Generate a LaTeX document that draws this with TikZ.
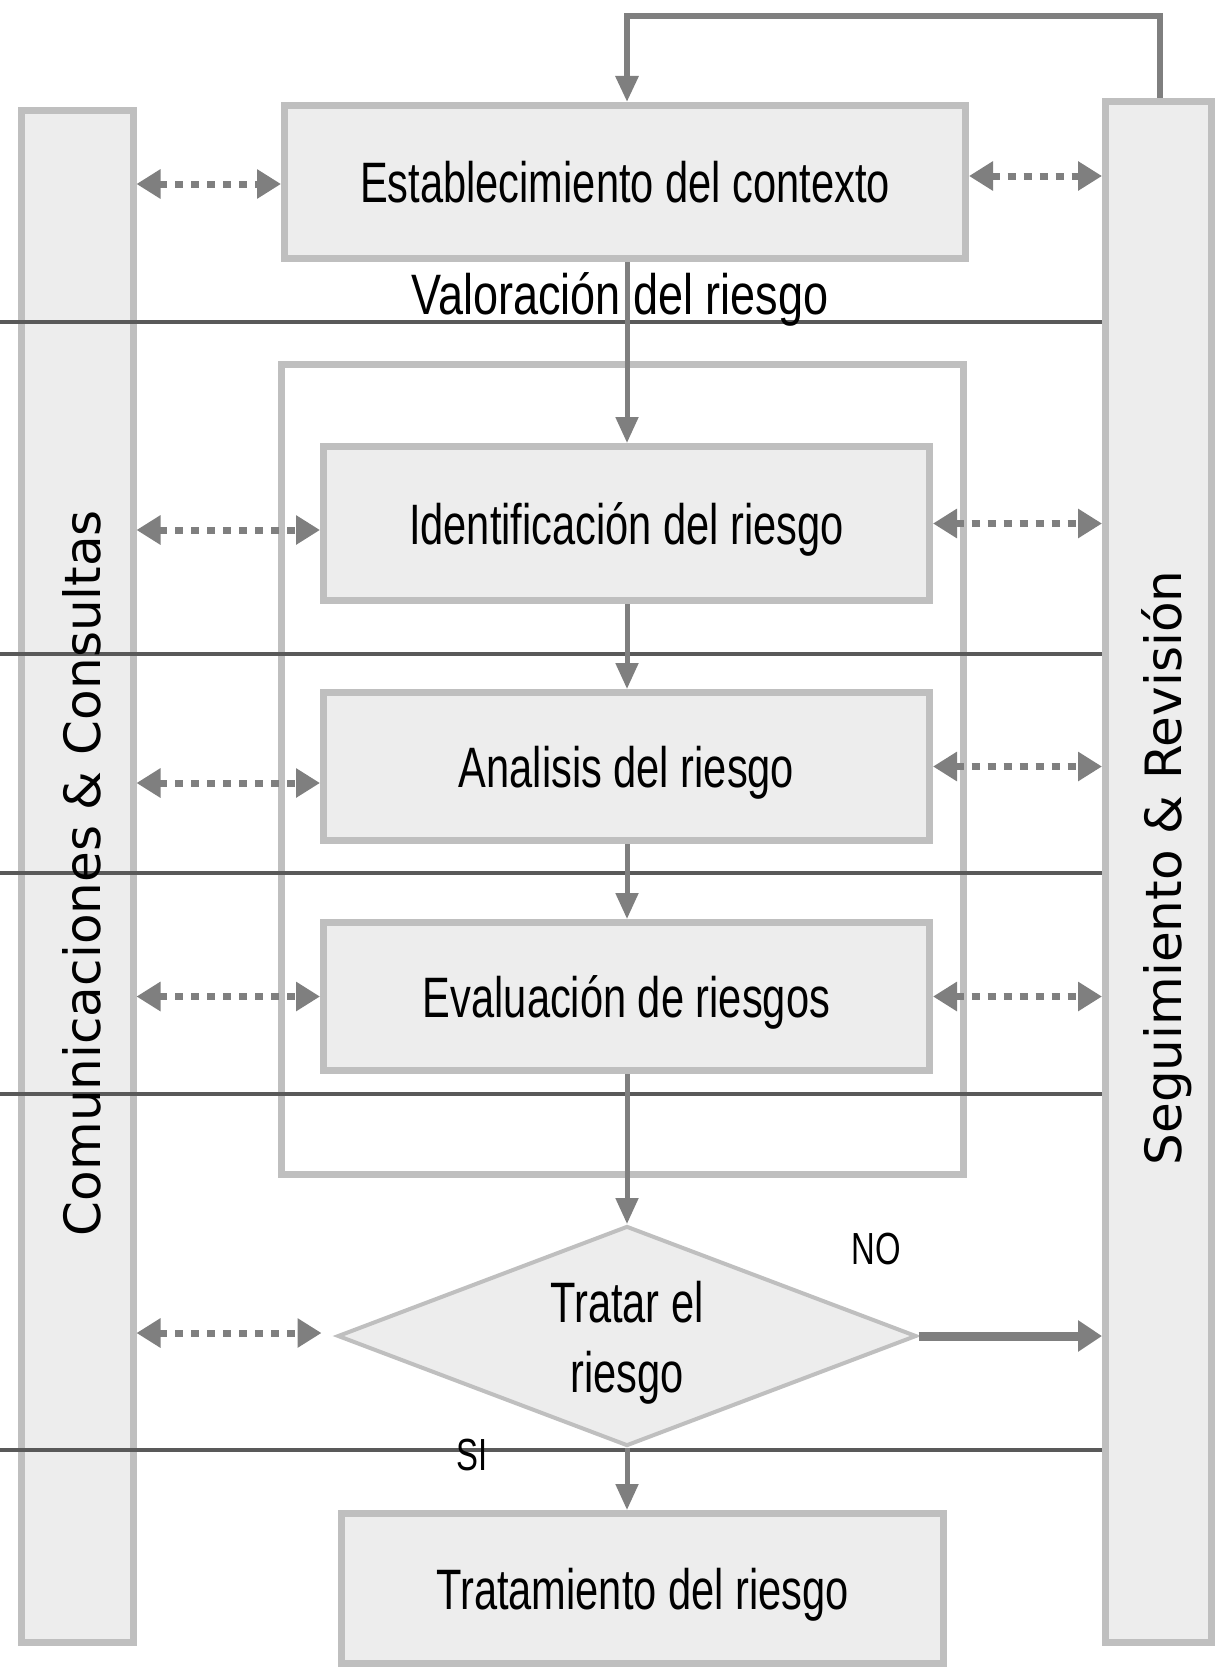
\documentclass[tikz,border=0pt]{standalone}
\usepackage{fontspec}
\newfontfamily\condfont[FakeStretch=0.73]{Liberation Sans}
\newfontfamily\valfam[FakeStretch=0.79]{Liberation Sans}
\newfontfamily\labelfam{DejaVu Sans}
\usetikzlibrary{arrows.meta,shapes.geometric,calc}
\definecolor{boxfill}{HTML}{EDEDED}
\definecolor{boxline}{HTML}{BFBFBF}
\definecolor{arrgray}{HTML}{7F7F7F}
\definecolor{hl}{HTML}{595959}
\newcommand\boxfont{\condfont\fontsize{57}{68}\selectfont}
\newcommand\smallfont{\condfont\fontsize{45}{52}\selectfont}
\newcommand\labfont{\labelfam\fontsize{50}{60}\selectfont}
\begin{document}
\begin{tikzpicture}[x=1pt,y=-1pt,
  box/.style={draw=boxline, fill=boxfill, line width=7pt, inner sep=0pt, font=\boxfont, text height=41pt, text depth=0pt},
  col/.style={draw=boxline, fill=boxfill, line width=7pt, inner sep=0pt},
  flow/.style={draw=arrgray, line width=5pt, line join=miter, -{Triangle[length=26pt,width=22pt]}},
  dotarr/.style={draw=arrgray, line width=7pt, dash pattern=on 8pt off 8pt, {Triangle[length=24pt,width=28pt]}-{Triangle[length=24pt,width=28pt]}},
  hline/.style={draw=hl, line width=4.5pt},
  lab/.style={font=\labfont, rotate=90, inner sep=0pt, text height=36.5pt, text depth=0pt},
  small/.style={font=\smallfont, inner sep=0pt, text height=32pt, text depth=0pt},
]
\useasboundingbox (0,0) rectangle (1229,1675);
% left column
\node[col, minimum width=112pt, minimum height=1532pt] (lc) at (77,876.5) {};
% frame
\draw[draw=boxline, line width=7pt] (281.5,364.5) rectangle (963.5,1174.5);
% boxes
\node[box, minimum width=681pt, minimum height=153pt] (b1) at (625,182) {Establecimiento del contexto};
\node[box, minimum width=606pt, minimum height=154pt] (b2) at (626.5,523.5) {Identificación del riesgo};
\node[box, minimum width=606pt, minimum height=148pt] (b3) at (626.5,766.5) {Analisis del riesgo};
\node[box, minimum width=606pt, minimum height=148pt] (b4) at (626.5,996.5) {Evaluación de riesgos};
\node[box, minimum width=602pt, minimum height=150pt] (b5) at (642.5,1588.5) {Tratamiento del riesgo};
% diamond
\node[diamond, draw=boxline, fill=boxfill, line width=4pt, minimum width=579pt, minimum height=220pt, inner sep=0pt, aspect=2.6] (d) at (627,1336) {};
\node[font=\condfont\fontsize{57}{68}\selectfont, align=center, inner sep=0pt] (dt) at (627,1343) {Tratar el\\[2pt]riesgo};
% horizontal lines
\draw[hline] (0,322) -- (1106,322);
\draw[hline] (0,654) -- (1106,654);
\draw[hline] (0,873) -- (1106,873);
\draw[hline] (0,1094) -- (1106,1094);
\draw[hline] (0,1450) -- (1106,1450);
% right column
\node[col, minimum width=106pt, minimum height=1541pt] (rc) at (1158.5,872) {};
% labels
\node[lab] (lcl) at (82,873) {Comunicaciones \& Consultas};
\node[lab] (rcl) at (1163,868) {Seguimiento \& Revisión};
\node[font=\valfam\fontsize{57}{68}\selectfont, anchor=base, inner sep=0pt] (val) at (620,314) {Valoración del riesgo};
\node[small] (no) at (876,1248) {NO};
\node[small] (si) at (472,1454) {SI};
% flow arrows
\coordinate (fr) at (1160,16);
\coordinate (fl) at (627,16);
\draw[flow, line width=6pt] (rc.north -| fr) -- (fr) -- (fl) -- (b1.north -| fl);
\draw[flow] (b1.south -| d.north) -- (b2.north -| d.north);
\draw[flow] (b2.south -| d.north) -- (b3.north -| d.north);
\draw[flow] (b3.south -| d.north) -- (b4.north -| d.north);
\draw[flow] (b4.south -| d.north) -- (d.north);
\draw[flow] (d.south) -- (b5.north -| d.south);
\draw[flow, line width=9pt, -{Triangle[length=24pt,width=30pt]}] (d.east) -- (rc.west |- d.east);
% dotted arrows left
\draw[dotarr] ($(lc.east |- b1.west)+(0,2)$) -- ($(b1.west)+(0,2)$);
\draw[dotarr] ($(lc.east |- b2.west)+(0,6.5)$) -- ($(b2.west)+(0,6.5)$);
\draw[dotarr] ($(lc.east |- b3.west)+(0,16.5)$) -- ($(b3.west)+(0,16.5)$);
\draw[dotarr] (lc.east |- b4.west) -- (b4.west);
\draw[dotarr] ($(lc.east |- d.west)+(0,-3)$) -- ($(d.west)+(-14,-3)$);
% dotted arrows right
\draw[dotarr] ($(b1.east)+(0,-6)$) -- ($(rc.west |- b1.east)+(0,-6)$);
\draw[dotarr] (b2.east) -- (rc.west |- b2.east);
\draw[dotarr] (b3.east) -- (rc.west |- b3.east);
\draw[dotarr] (b4.east) -- (rc.west |- b4.east);
\end{tikzpicture}
\end{document}
